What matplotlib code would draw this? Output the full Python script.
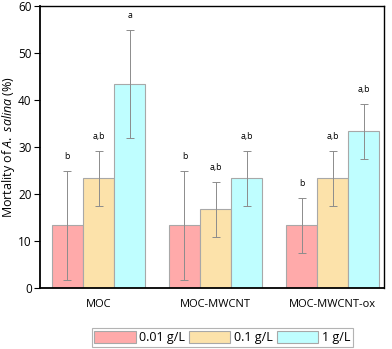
import matplotlib
matplotlib.use("Agg")
import matplotlib.pyplot as plt
import numpy as np

categories = ["MOC", "MOC-MWCNT", "MOC-MWCNT-ox"]
series = ["0.01 g/L", "0.1 g/L", "1 g/L"]
means = {
    "0.01 g/L": [13.3, 13.3, 13.3],
    "0.1 g/L": [23.3, 16.7, 23.3],
    "1 g/L": [43.3, 23.3, 33.3],
}
errors = {
    "0.01 g/L": [11.6, 11.6, 5.8],
    "0.1 g/L": [5.8, 5.8, 5.8],
    "1 g/L": [11.5, 5.8, 5.8],
}
letters = {
    "0.01 g/L": ["b", "b", "b"],
    "0.1 g/L": ["a,b", "a,b", "a,b"],
    "1 g/L": ["a", "a,b", "a,b"],
}
colors = ["#FFAAAA", "#FCE2AA", "#BFFEFF"]

plt.rcParams['font.family'] = ['Open Sans', 'DejaVu Sans']
plt.rcParams['mathtext.fontset'] = 'custom'
plt.rcParams['mathtext.it'] = 'Open Sans:italic'
plt.rcParams['mathtext.rm'] = 'Open Sans'

fig = plt.figure(figsize=(3.92, 3.49), dpi=100)
ax = fig.add_axes([0.102, 0.175, 0.878, 0.808])

x = np.arange(len(categories))
w = 0.266
for i, s in enumerate(series):
    pos = x + (i - 1) * w
    ax.bar(pos, means[s], w, color=colors[i], edgecolor="#A8A8A8", linewidth=0.8,
           label=s, zorder=2)
    ax.errorbar(pos, means[s], yerr=errors[s], fmt="none", ecolor="#8C8C8C",
                elinewidth=0.7, capsize=3, capthick=0.7, zorder=3)
    for p, m, e, t in zip(pos, means[s], errors[s], letters[s]):
        ax.text(p, m + e + 2.2, t, ha="center", va="bottom", fontsize=6.3)

ax.set_xlim(-0.5, 2.44)
ax.set_ylim(0, 60)
ax.set_yticks(range(0, 61, 10))
ax.set_xticks(x)
ax.set_xticklabels(categories, fontsize=8)
ax.tick_params(axis="x", length=0, pad=8)
ax.tick_params(axis="y", labelsize=8.5, length=4, width=0.8, direction="out", pad=2)
for sp in ax.spines.values():
    sp.set_linewidth(1.0)
ax.spines["left"].set_linewidth(1.3)
ax.spines["bottom"].set_linewidth(1.3)
ax.set_ylabel("Mortality of $\\it{A.\\ salina}$ (%)", fontsize=9, labelpad=1)

leg = fig.legend(loc="lower center", bbox_to_anchor=(0.567, 0.0), ncol=3, fontsize=9,
                 frameon=True, fancybox=False, edgecolor="#A0A0A0",
                 handlelength=3.3, handleheight=1.1, handletextpad=0.3,
                 columnspacing=0.3, borderpad=0.2, borderaxespad=0.2)
leg.get_frame().set_linewidth(0.8)

fig.savefig("out.png", dpi=100)
